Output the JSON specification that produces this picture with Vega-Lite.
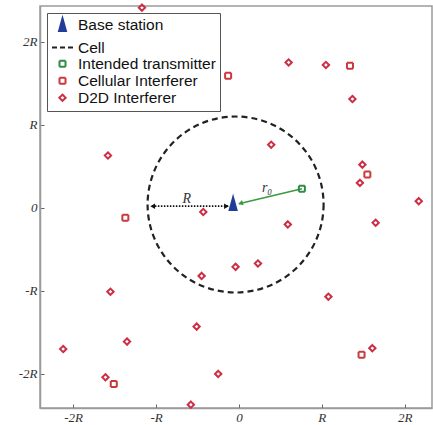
{
  "$schema": "https://vega.github.io/schema/vega-lite/v6.json",
  "width": 392,
  "height": 402,
  "autosize": "none",
  "padding": {"left": 40, "top": 6, "right": 1, "bottom": 17},
  "background": "white",
  "view": {"stroke": "#9a9a9a", "strokeWidth": 1.5},
  "config": {
    "axis": {"grid": false, "domainColor": "#9a9a9a", "domainWidth": 1.5, "tickColor": "#666", "tickSize": -4, "labelFont": "Liberation Serif", "labelFontStyle": "italic", "labelFontSize": 13, "labelColor": "#333", "labelPadding": 7, "title": null},
    "legend": {"labelFont": "Liberation Sans", "labelFontSize": 15.5, "labelColor": "#111"}
  },
  "datasets": {
    "points": [
      {"x": -0.07, "y": 0.05, "series": "Base station"},
      {"x": -1.17, "y": 2.41, "series": "D2D Interferer"},
      {"x": 0.60, "y": 1.75, "series": "D2D Interferer"},
      {"x": 1.05, "y": 1.72, "series": "D2D Interferer"},
      {"x": 1.37, "y": 1.31, "series": "D2D Interferer"},
      {"x": 0.39, "y": 0.76, "series": "D2D Interferer"},
      {"x": -1.58, "y": 0.63, "series": "D2D Interferer"},
      {"x": 1.49, "y": 0.52, "series": "D2D Interferer"},
      {"x": 1.46, "y": 0.30, "series": "D2D Interferer"},
      {"x": 2.17, "y": 0.08, "series": "D2D Interferer"},
      {"x": -0.43, "y": -0.05, "series": "D2D Interferer"},
      {"x": 1.65, "y": -0.18, "series": "D2D Interferer"},
      {"x": 0.59, "y": -0.20, "series": "D2D Interferer"},
      {"x": -0.04, "y": -0.71, "series": "D2D Interferer"},
      {"x": 0.23, "y": -0.67, "series": "D2D Interferer"},
      {"x": -0.45, "y": -0.82, "series": "D2D Interferer"},
      {"x": -1.55, "y": -1.01, "series": "D2D Interferer"},
      {"x": 1.08, "y": -1.07, "series": "D2D Interferer"},
      {"x": -0.51, "y": -1.43, "series": "D2D Interferer"},
      {"x": -1.35, "y": -1.61, "series": "D2D Interferer"},
      {"x": -2.12, "y": -1.70, "series": "D2D Interferer"},
      {"x": 1.61, "y": -1.69, "series": "D2D Interferer"},
      {"x": -1.61, "y": -2.04, "series": "D2D Interferer"},
      {"x": -0.25, "y": -2.00, "series": "D2D Interferer"},
      {"x": -0.58, "y": -2.37, "series": "D2D Interferer"},
      {"x": -0.13, "y": 1.59, "series": "Cellular Interferer"},
      {"x": 1.34, "y": 1.71, "series": "Cellular Interferer"},
      {"x": 1.55, "y": 0.40, "series": "Cellular Interferer"},
      {"x": -1.37, "y": -0.12, "series": "Cellular Interferer"},
      {"x": 1.48, "y": -1.77, "series": "Cellular Interferer"},
      {"x": -1.51, "y": -2.12, "series": "Cellular Interferer"},
      {"x": 0.76, "y": 0.23, "series": "Intended transmitter"}
    ]
  },
  "layer": [
    {
      "data": {"values": [{"x": -0.04, "y": 0.04}]},
      "mark": {"type": "point", "shape": "circle", "size": 30976, "filled": false, "color": "#222", "strokeDash": [6, 4], "strokeWidth": 2.2, "opacity": 1},
      "encoding": {
        "x": {"field": "x", "type": "quantitative", "scale": {"domain": [-2.40, 2.33], "nice": false, "zero": false},
          "axis": {"values": [-2, -1, 0, 1, 2], "labelExpr": "datum.value == 0 ? '0' : datum.value == 1 ? 'R' : datum.value == -1 ? '-R' : datum.value == 2 ? '2R' : '-2R'"}},
        "y": {"field": "y", "type": "quantitative", "scale": {"domain": [-2.41, 2.43], "nice": false, "zero": false},
          "axis": {"values": [-2, -1, 0, 1, 2], "labelExpr": "datum.value == 0 ? '0' : datum.value == 1 ? 'R' : datum.value == -1 ? '-R' : datum.value == 2 ? '2R' : '-2R'"}}
      }
    },
    {
      "data": {"values": [{"x": -1.05, "x2": -0.13, "y": 0.02}]},
      "mark": {"type": "rule", "color": "#111", "strokeDash": [1.5, 1.5], "strokeWidth": 1.6},
      "encoding": {"x": {"field": "x", "type": "quantitative"}, "x2": {"field": "x2"}, "y": {"field": "y", "type": "quantitative"}}
    },
    {
      "data": {"values": [{"x": 0.76, "y": 0.23, "x2": 0.0, "y2": 0.05}]},
      "mark": {"type": "rule", "color": "#3a9a40", "strokeWidth": 1.5},
      "encoding": {"x": {"field": "x", "type": "quantitative"}, "y": {"field": "y", "type": "quantitative"}, "x2": {"field": "x2"}, "y2": {"field": "y2"}}
    },
    {
      "data": {"values": [{"x": -1.04, "y": 0.02}]},
      "mark": {"type": "point", "shape": "triangle-left", "size": 30, "filled": true, "color": "#111", "opacity": 1},
      "encoding": {"x": {"field": "x", "type": "quantitative"}, "y": {"field": "y", "type": "quantitative"}}
    },
    {
      "data": {"values": [{"x": -0.15, "y": 0.02}]},
      "mark": {"type": "point", "shape": "triangle-right", "size": 30, "filled": true, "color": "#111", "opacity": 1},
      "encoding": {"x": {"field": "x", "type": "quantitative"}, "y": {"field": "y", "type": "quantitative"}}
    },
    {
      "data": {"values": [{"x": 0.02, "y": 0.055}]},
      "mark": {"type": "point", "shape": "triangle-right", "size": 30, "filled": true, "color": "#3a9a40", "opacity": 1, "angle": 164},
      "encoding": {"x": {"field": "x", "type": "quantitative"}, "y": {"field": "y", "type": "quantitative"}}
    },
    {
      "data": {"values": [{"x": -0.63, "y": 0.11, "label": "R"}, {"x": 0.34, "y": 0.24, "label": "r₀"}]},
      "mark": {"type": "text", "font": "Liberation Serif", "fontStyle": "italic", "fontSize": 14, "color": "#333"},
      "encoding": {"x": {"field": "x", "type": "quantitative"}, "y": {"field": "y", "type": "quantitative"}, "text": {"field": "label"}}
    },
    {
      "data": {"name": "points"},
      "mark": {"type": "point", "filled": false, "strokeWidth": 2, "opacity": 1},
      "encoding": {
        "x": {"field": "x", "type": "quantitative"},
        "y": {"field": "y", "type": "quantitative"},
        "color": {"field": "series", "type": "nominal",
          "scale": {"domain": ["Base station", "Cell", "Intended transmitter", "Cellular Interferer", "D2D Interferer"], "range": ["#233d96", "#222222", "#2e8b45", "#c8383c", "#cc2f45"]},
          "legend": {"title": null, "orient": "top-left", "offset": 7, "padding": 4, "rowPadding": 0, "strokeColor": "#555", "fillColor": "white", "symbolStrokeWidth": 2, "symbolOpacity": 1}},
        "fill": {"field": "series", "type": "nominal",
          "scale": {"domain": ["Base station", "Cell", "Intended transmitter", "Cellular Interferer", "D2D Interferer"], "range": ["#233d96", "transparent", "transparent", "transparent", "transparent"]}},
        "shape": {"field": "series", "type": "nominal",
          "scale": {"domain": ["Base station", "Cell", "Intended transmitter", "Cellular Interferer", "D2D Interferer"], "range": ["M-0.55,1L0,-1L0.55,1Z", "stroke", "square", "square", "diamond"]}},
        "size": {"field": "series", "type": "nominal",
          "scale": {"type": "ordinal", "domain": ["Base station", "Cell", "Intended transmitter", "Cellular Interferer", "D2D Interferer"], "range": [160, 441, 36, 36, 40]}},
        "strokeDash": {"field": "series", "type": "nominal",
          "scale": {"domain": ["Base station", "Cell", "Intended transmitter", "Cellular Interferer", "D2D Interferer"], "range": [[1, 0], [5, 3], [1, 0], [1, 0], [1, 0]]}}
      }
    }
  ]
}
